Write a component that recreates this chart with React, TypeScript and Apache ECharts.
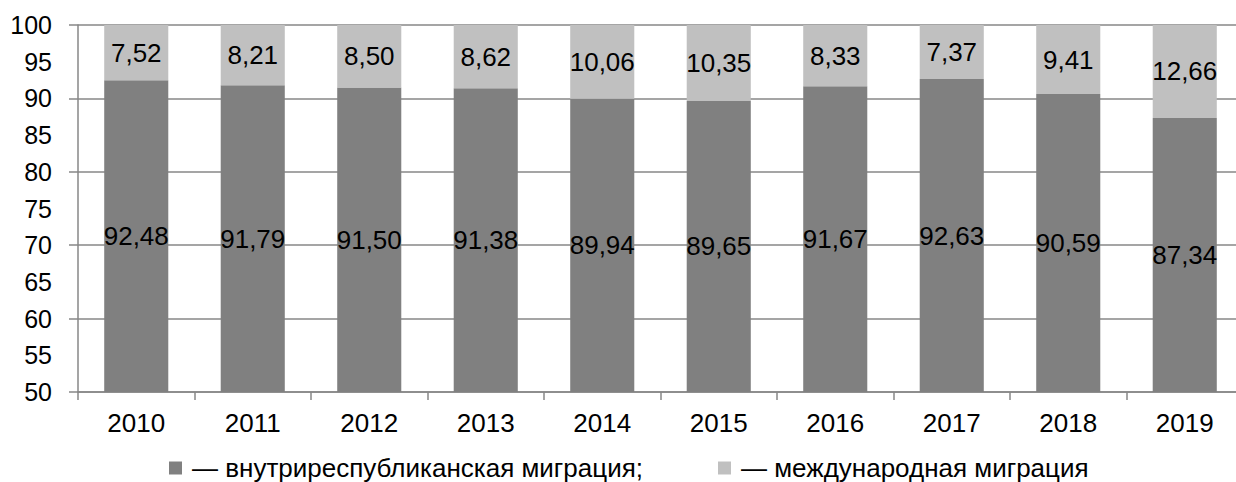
import React, { useEffect, useRef } from "react";
import * as echarts from "echarts";

const years = ["2010", "2011", "2012", "2013", "2014", "2015", "2016", "2017", "2018", "2019"];
const internalMigration = [92.48, 91.79, 91.5, 91.38, 89.94, 89.65, 91.67, 92.63, 90.59, 87.34];
const internationalMigration = [7.52, 8.21, 8.5, 8.62, 10.06, 10.35, 8.33, 7.37, 9.41, 12.66];
const seriesNames = ["— внутриреспубликанская миграция;", "— международная миграция"];

const FONT = "'Liberation Sans', Arial, sans-serif";
const LINE = "#878787";

const fmt = (v: number) => v.toFixed(2).replace(".", ",");

export default function App() {
  const ref = useRef<HTMLDivElement>(null);
  useEffect(() => {
    if (!ref.current) return;
    const chart = echarts.init(ref.current, null, { renderer: "svg" });
    chart.setOption({
      animation: false,
      backgroundColor: "#ffffff",
      textStyle: { fontFamily: FONT },
      grid: { left: 78, top: 25, right: 17, bottom: 90, containLabel: false },
      legend: {
        left: 164,
        top: 450,
        icon: "rect",
        itemWidth: 13,
        itemHeight: 13,
        itemGap: 75,
        textStyle: { fontSize: 26, color: "#000", fontFamily: FONT, padding: [0, 0, 0, 5] },
        data: seriesNames,
      },
      xAxis: {
        type: "category",
        data: years,
        axisLine: { lineStyle: { color: LINE, width: 1.5 } },
        axisTick: { show: true, alignWithLabel: false, length: 8, lineStyle: { color: LINE, width: 1.5 } },
        axisLabel: { color: "#000", fontSize: 26, fontFamily: FONT, margin: 18 },
        splitLine: { show: false },
      },
      yAxis: [
        {
          type: "value",
          min: 50,
          max: 100,
          interval: 10,
          position: "left",
          axisLine: { show: true, lineStyle: { color: LINE, width: 1.5 } },
          axisTick: { show: true, length: 9, lineStyle: { color: LINE, width: 1.5 } },
          axisLabel: { show: false },
          splitLine: { show: true, lineStyle: { color: LINE, width: 1.5 } },
        },
        {
          type: "value",
          min: 50,
          max: 100,
          interval: 5,
          position: "left",
          offset: 0,
          axisLine: { show: false },
          axisTick: { show: false },
          splitLine: { show: false },
          axisLabel: { color: "#000", fontSize: 25, fontFamily: FONT, margin: 26 },
        },
      ],
      series: [
        {
          name: seriesNames[0],
          type: "bar",
          stack: "total",
          yAxisIndex: 0,
          barWidth: "55%",
          data: internalMigration,
          itemStyle: { color: "#808080" },
          label: {
            show: true,
            position: "inside",
            color: "#000",
            fontSize: 26,
            fontFamily: FONT,
            formatter: (p: any) => fmt(p.value),
          },
        },
        {
          name: seriesNames[1],
          type: "bar",
          stack: "total",
          yAxisIndex: 0,
          barWidth: "55%",
          data: internationalMigration,
          itemStyle: { color: "#c0c0c0" },
          label: {
            show: true,
            position: "inside",
            color: "#000",
            fontSize: 26,
            fontFamily: FONT,
            formatter: (p: any) => fmt(p.value),
          },
        },
      ],
    });
    return () => chart.dispose();
  }, []);
  return (
    <div style={{ position: "fixed", left: 0, top: 0, width: 1236, height: 482, overflow: "hidden", background: "#fff" }}>
      <div ref={ref} style={{ width: 1260, height: 482 }} />
    </div>
  );
}
